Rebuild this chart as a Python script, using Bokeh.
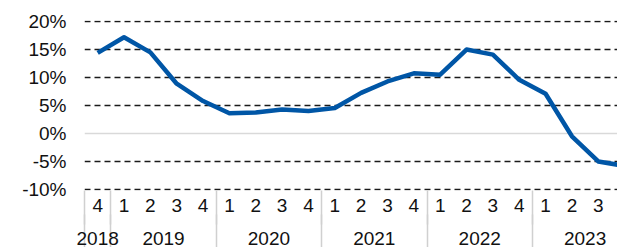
from bokeh.plotting import figure
from bokeh.models import Range1d, LinearAxis, FixedTicker, Span
from bokeh.embed import file_html
from bokeh.resources import INLINE

# ---- data ----
years = ["2018", "2019", "2020", "2021", "2022", "2023"]
quarters_per_year = [1, 4, 4, 4, 4, 4]
quarter_labels = ["4",
                  "1", "2", "3", "4",
                  "1", "2", "3", "4",
                  "1", "2", "3", "4",
                  "1", "2", "3", "4",
                  "1", "2", "3", "4"]
values = [14.4,
          17.2, 14.5, 8.9, 5.8,
          3.6, 3.75, 4.3, 4.0,
          4.55, 7.25, 9.3, 10.75,
          10.5, 15.0, 14.1, 9.6,
          7.1, -0.5, -5.0, -5.8]
y_ticks = [-10, -5, 0, 5, 10, 15, 20]

FONT = "Liberation Sans"
FS = "19px"
TXT = "#111111"

x = list(range(len(values)))

# group boundaries and centers
bounds = [-0.5]
centers = []
pos = -0.5
for n in quarters_per_year:
    centers.append(pos + n / 2.0)
    pos += n
    bounds.append(pos)

p = figure(width=617, height=247,
           x_range=Range1d(-0.5, 19.73), y_range=Range1d(-10.2, 20.2),
           output_backend="svg", toolbar_location=None,
           min_border_left=84, min_border_right=0,
           min_border_top=20, min_border_bottom=54)
p.outline_line_color = None
p.background_fill_color = "white"
p.border_fill_color = "white"

# y grid dashed (except zero)
p.xgrid.visible = False
p.ygrid.ticker = FixedTicker(ticks=[t for t in y_ticks if t != 0])
p.ygrid.grid_line_color = "#1a1a1a"
p.ygrid.grid_line_width = 1.6
p.ygrid.grid_line_dash = "6 4"

zero = Span(location=0, dimension="width", line_color="#d9d9d9",
            line_width=1.5, level="underlay")
p.add_layout(zero)

# y axis
ya = p.yaxis[0]
ya.ticker = FixedTicker(ticks=y_ticks)
ya.major_label_overrides = {t: f"{t}%" for t in y_ticks}
ya.axis_line_color = None
ya.major_tick_line_color = None
ya.minor_tick_line_color = None
ya.major_tick_out = 0
ya.major_tick_in = 0
ya.major_label_standoff = 18
ya.major_label_text_font = FONT
ya.major_label_text_font_size = FS
ya.major_label_text_color = TXT

DIV = "#d0d0d0"

# quarter axis (default below axis)
Q_OUT = 34
xa = p.xaxis[0]
xa.ticker = FixedTicker(ticks=x, minor_ticks=bounds)
xa.major_label_overrides = {i: q for i, q in zip(x, quarter_labels)}
xa.axis_line_color = None
xa.major_tick_line_color = None
xa.major_tick_out = 0
xa.major_tick_in = 0
xa.minor_tick_line_color = DIV
xa.minor_tick_line_width = 1.5
xa.minor_tick_out = Q_OUT
xa.minor_tick_in = 0
xa.major_label_standoff = 8 - Q_OUT
xa.major_label_text_font = FONT
xa.major_label_text_font_size = FS
xa.major_label_text_color = TXT

# year axis
Y_OUT = 40
yr = LinearAxis(ticker=FixedTicker(ticks=centers, minor_ticks=bounds))
yr.major_label_overrides = {c: y for c, y in zip(centers, years)}
yr.axis_line_color = None
yr.major_tick_line_color = None
yr.major_tick_out = 0
yr.major_tick_in = 0
yr.minor_tick_line_color = DIV
yr.minor_tick_line_width = 1.5
yr.minor_tick_out = Y_OUT
yr.minor_tick_in = 0
yr.major_label_standoff = 17 - Y_OUT
yr.major_label_text_font = FONT
yr.major_label_text_font_size = FS
yr.major_label_text_color = TXT
p.add_layout(yr, "below")

p.line(x, values, line_color="#0056A6", line_width=4.5, line_join="round")

open("out.html", "w").write(file_html(p, INLINE))
